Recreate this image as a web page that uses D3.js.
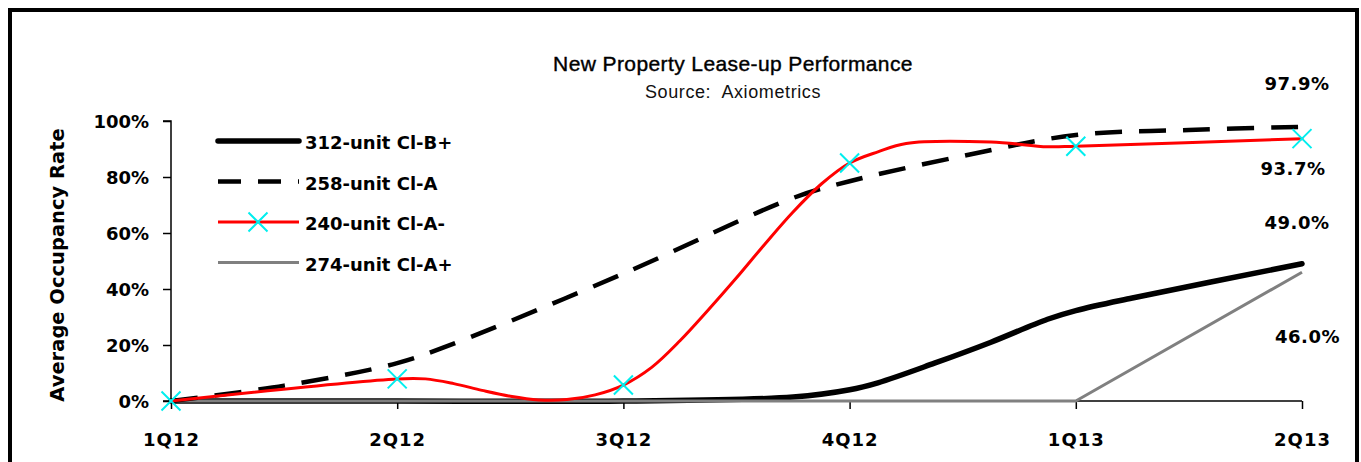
<!DOCTYPE html>
<html>
<head>
<meta charset="utf-8">
<script src="https://cdn.jsdelivr.net/npm/d3@7"></script>
<style>
  html, body { margin: 0; padding: 0; background: #fff; }
  svg { display: block; }
</style>
</head>
<body>
<div id="chart"></div>
<script>
// Quarter labels on the x axis (positions are quarter indices 0..5)
const quarters = ["1Q12", "2Q12", "3Q12", "4Q12", "1Q13", "2Q13"];
const yTicks = [0, 20, 40, 60, 80, 100];

// 312-unit Cl-B+ : occupancy (%) at quarter-index positions
const clBPlusT = [0, 1, 2, 2.75, 3, 3.125, 3.375, 3.625, 3.875, 4, 4.25, 5];
const clBPlusV = [0, 0, 0, 1.4, 4, 6.5, 13.5, 21, 29.2, 32.3, 36.8, 49.0];

// 258-unit Cl-A
const clAT = [0, 0.5, 1, 1.25, 2, 2.75, 3, 3.5, 4, 4.5, 5];
const clAV = [0, 5.5, 13.5, 20.5, 45.5, 72.5, 78.5, 87.5, 95, 96.8, 97.9];

// 240-unit Cl-A-
const clAMinusT = [0, 1, 1.125, 1.25, 1.375, 1.5, 1.625, 1.75, 1.875, 2,
                   2.125, 2.25, 2.375, 2.5, 2.625, 2.75, 2.875, 3,
                   3.125, 3.25, 3.625, 3.875, 4, 5];
const clAMinusV = [0, 7.9, 7.9, 6.2, 3.8, 1.7, 0.4, 0.5, 2.2, 5.7,
                   12, 21.5, 32.5, 44, 56, 67.5, 77.5, 85,
                   89, 92, 92.5, 90.8, 91, 93.7];

// 274-unit Cl-A+
const clAPlusT = [0, 1, 2, 3, 4, 5];
const clAPlusV = [0, 0, 0, 0, 0, 46.0];

const seriesNames = ["312-unit Cl-B+", "258-unit Cl-A", "240-unit Cl-A-", "274-unit Cl-A+"];

const W = 1361, H = 462;
const svg = d3.select("#chart").append("svg").attr("width", W).attr("height", H);

// outer frame
svg.append("rect")
  .attr("x", 10).attr("y", 10).attr("width", 1347).attr("height", 520)
  .attr("fill", "none").attr("stroke", "#000").attr("stroke-width", 4);

const x = d3.scaleLinear().domain([0, quarters.length - 1]).range([171, 1302]);
const y = d3.scaleLinear().domain([0, 100]).range([401, 121]);

const boldFont = "'DejaVu Sans', Verdana, sans-serif";

// titles
svg.append("text")
  .attr("x", 733).attr("y", 71).attr("text-anchor", "middle")
  .attr("font-family", "'Liberation Sans', Arial, sans-serif")
  .attr("font-size", 21).attr("letter-spacing", 0.4).attr("fill", "#000")
  .attr("stroke", "#000").attr("stroke-width", 0.4)
  .text("New Property Lease-up Performance");
svg.append("text")
  .attr("x", 733).attr("y", 98).attr("text-anchor", "middle")
  .attr("font-family", "'Liberation Sans', Arial, sans-serif")
  .attr("font-size", 18).attr("letter-spacing", 0.6).attr("fill", "#111")
  .style("white-space", "pre")
  .text("Source:  Axiometrics");

// y axis
const yAxis = d3.axisLeft(y).tickValues(yTicks).tickSize(8).tickPadding(14)
  .tickFormat(d => d + "%");
const gy = svg.append("g").attr("transform", "translate(171,0)").call(yAxis);
gy.select(".domain").attr("stroke", "#000").attr("stroke-width", 1.5).attr("d", "M-8,121H0V401H-8");
gy.selectAll(".tick line").attr("stroke", "#000").attr("stroke-width", 1.5);
gy.selectAll(".tick text")
  .attr("font-family", boldFont).attr("font-weight", "bold").attr("font-size", 18)
  .attr("fill", "#000").attr("dy", "0.36em");

// x axis
const xAxis = d3.axisBottom(x).tickValues(d3.range(quarters.length)).tickSize(8).tickPadding(24)
  .tickFormat(i => quarters[i]);
const gx = svg.append("g").attr("transform", "translate(0,401)").call(xAxis);
gx.select(".domain").attr("stroke", "#000").attr("stroke-width", 1.5).attr("d", "M171,0H1302");
gx.selectAll(".tick line").attr("stroke", "#000").attr("stroke-width", 1.5);
gx.selectAll(".tick text")
  .attr("font-family", boldFont).attr("font-weight", "bold").attr("font-size", 18)
  .attr("fill", "#000").attr("letter-spacing", 1);

// y axis title
svg.append("text")
  .attr("transform", "translate(64,265) rotate(-90)")
  .attr("text-anchor", "middle")
  .attr("font-family", boldFont).attr("font-weight", "bold").attr("font-size", 19.5)
  .attr("fill", "#000")
  .text("Average Occupancy Rate");

const toPts = (T, V) => T.map((t, i) => [t, V[i]]);
const smooth = d3.line().x(d => x(d[0])).y(d => y(d[1])).curve(d3.curveCatmullRom.alpha(0.5));
const straight = d3.line().x(d => x(d[0])).y(d => y(d[1]));

const styles = [
  { color: "#000", width: 5.5, dash: null, cap: "round" },
  { color: "#000", width: 4.5, dash: "27,17", cap: "butt" },
  { color: "#ff0000", width: 3, dash: null, cap: "round" },
  { color: "#808080", width: 3, dash: null, cap: "butt" }
];

const lines = [
  { pts: toPts(clBPlusT, clBPlusV), gen: smooth, s: styles[0] },
  { pts: toPts(clAPlusT, clAPlusV), gen: straight, s: styles[3] },
  { pts: toPts(clAT, clAV), gen: smooth, s: styles[1] },
  { pts: toPts(clAMinusT, clAMinusV), gen: smooth, s: styles[2] }
];

lines.forEach(l => {
  svg.append("path")
    .attr("d", l.gen(l.pts))
    .attr("fill", "none")
    .attr("stroke", l.s.color)
    .attr("stroke-width", l.s.width)
    .attr("stroke-dasharray", l.s.dash)
    .attr("stroke-linecap", l.s.cap)
    .attr("stroke-linejoin", "round");
});

// cyan x markers at each quarter on the 240-unit series
function xMark(g, cx, cy, r) {
  g.append("path")
    .attr("d", `M${cx - r},${cy - r}L${cx + r},${cy + r}M${cx - r},${cy + r}L${cx + r},${cy - r}`)
    .attr("stroke", "#00eeee").attr("stroke-width", 2).attr("fill", "none");
}
const markerG = svg.append("g");
clAMinusT.forEach((t, i) => {
  if (Number.isInteger(t)) xMark(markerG, x(t), y(clAMinusV[i]), 9.5);
});

// end-of-series value labels
const endLabels = [
  { T: clAT, V: clAV, dx: -5, dy: -37 },
  { T: clAMinusT, V: clAMinusV, dx: -9, dy: 36.5 },
  { T: clBPlusT, V: clBPlusV, dx: -5, dy: -35 },
  { T: clAPlusT, V: clAPlusV, dx: 5.5, dy: 71 }
];
endLabels.forEach(e => {
  const n = e.T.length - 1;
  svg.append("text")
    .attr("x", x(e.T[n]) + e.dx).attr("y", y(e.V[n]) + e.dy)
    .attr("text-anchor", "middle")
    .attr("font-family", boldFont).attr("font-weight", "bold").attr("font-size", 18)
    .attr("letter-spacing", 0.5).attr("fill", "#000")
    .text(e.V[n].toFixed(1) + "%");
});

// legend
const legend = svg.append("g");
[0, 1, 2, 3].forEach(i => {
  const ly = 141 + i * 40.5;
  const s = styles[i];
  legend.append("line")
    .attr("x1", 218).attr("x2", 299).attr("y1", ly).attr("y2", ly)
    .attr("stroke", s.color).attr("stroke-width", s.width)
    .attr("stroke-dasharray", i === 1 ? "23,17" : null)
    .attr("stroke-linecap", i === 0 ? "round" : "butt");
  if (i === 2) xMark(legend, 258, ly, 9.5);
  legend.append("text")
    .attr("x", 305).attr("y", ly + 8)
    .attr("font-family", boldFont).attr("font-weight", "bold").attr("font-size", 18)
    .attr("fill", "#000")
    .text(seriesNames[i]);
});
</script>
</body>
</html>
